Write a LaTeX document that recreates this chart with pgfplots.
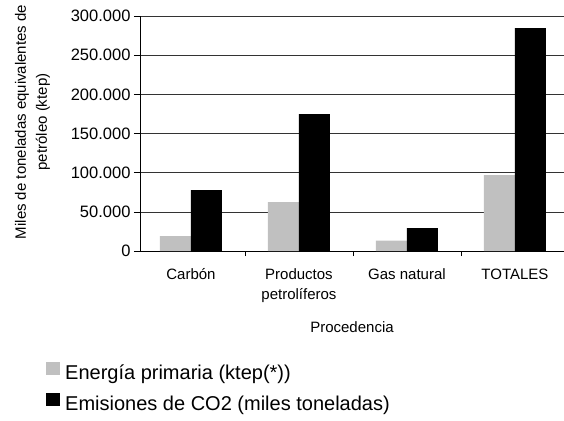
\documentclass[border=0pt]{standalone}
\usepackage{pgfplots}
\pgfplotsset{compat=1.18}
\usepackage{fontspec}
\setmainfont{Liberation Sans}
\definecolor{silverbar}{HTML}{C0C0C0}
\pgfplotsset{sqlegend/.style={legend image code/.code={\fill[##1] (0pt,-2pt) rectangle (14pt,11pt); \path (17pt,0pt);}}}
\begin{document}
\begin{tikzpicture}
\useasboundingbox (-140pt,-169pt) rectangle (424pt,251pt);
\begin{axis}[
  scale only axis, width=424pt, height=235pt,
  ybar=0pt, bar width=31pt,
  xmin=-0.472, xmax=3.454, ymin=0, ymax=300000,
  xtick={0,1,2,3},
  xticklabels={Carbón, Productos\\petrolíferos, Gas natural, TOTALES},
  x tick label style={align=center, font=\fontsize{15}{20}\selectfont, yshift=-8pt},
  minor xtick={0.5,1.5,2.5}, minor tick length=5pt,
  major x tick style={draw=none},
  ytick={0,50000,100000,150000,200000,250000,300000},
  scaled y ticks=false,
  y tick label style={/pgf/number format/.cd, fixed, 1000 sep={.}, assume math mode=true, /tikz/.cd, font=\fontsize{16.5}{18}\selectfont},
  tick align=outside, major tick length=6pt,
  tick style={black, line width=0.6pt},
  ymajorgrids, grid style={black!80, line width=0.6pt},
  axis x line*=bottom, axis y line*=left,
  axis line style={-, black, line width=0.8pt},
  xlabel={Procedencia},
  xlabel style={at={(0.5,-0.3234)}, anchor=center, font=\fontsize{15}{18}\selectfont},
  ylabel={Miles de toneladas equivalentes de\\petróleo (ktep)},
  ylabel style={at={(-0.2535,0.549)}, anchor=center, align=center, font=\fontsize{15}{21}\selectfont},
  legend style={at={(-0.2217,-0.47)}, anchor=north west, draw=none, fill=none,
    font=\fontsize{20}{24}\selectfont, row sep=10pt, inner sep=0pt,
    nodes={inner sep=2pt}},
  legend cell align=left,
]
\addplot[fill=silverbar, draw=none, sqlegend]
  coordinates {(0,19100) (1,62500) (2,13200) (3,97000)};
\addlegendentry{Energía primaria (ktep(*))}
\addplot[fill=black, draw=none, sqlegend]
  coordinates {(0,77800) (1,174800) (2,29300) (3,284500)};
\addlegendentry{Emisiones de CO2 (miles toneladas)}
\end{axis}
\end{tikzpicture}
\end{document}
